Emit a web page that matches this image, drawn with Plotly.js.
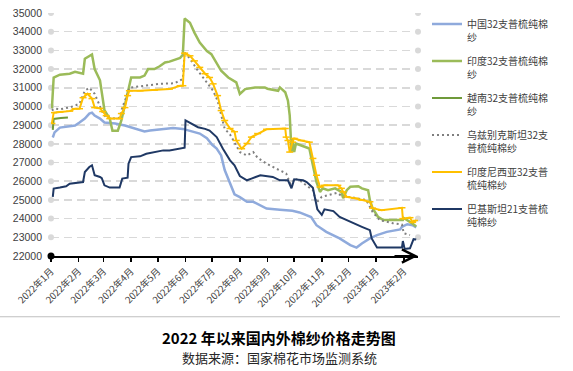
<!DOCTYPE html>
<html>
<head>
<meta charset="utf-8">
<script src="https://cdn.plot.ly/plotly-3.0.1.min.js"></script>
<style>html,body{margin:0;padding:0;background:#fff;}#chart{width:573px;height:371px;}</style>
</head>
<body>
<div id="chart"></div>
<script>
// ---- Data ----
const seriesNames = ["中国32支普梳纯棉<br>纱", "印度32支普梳纯棉<br>纱", "越南32支普梳纯棉<br>纱", "乌兹别克斯坦32支<br>普梳纯棉纱", "印度尼西亚32支普<br>梳纯棉纱", "巴基斯坦21支普梳<br>纯棉纱"];

const cnDates = ["2022-01-03","2022-01-05","2022-01-11","2022-01-22","2022-01-28","2022-02-02","2022-02-08","2022-02-13","2022-02-16","2022-02-19","2022-02-25","2022-03-02","2022-03-14","2022-03-25","2022-04-05","2022-04-16","2022-04-22","2022-05-03","2022-05-18","2022-05-29","2022-06-08","2022-06-17","2022-06-25","2022-07-01","2022-07-06","2022-07-11","2022-07-15","2022-07-21","2022-07-26","2022-08-01","2022-08-09","2022-08-16","2022-08-24","2022-08-31","2022-09-15","2022-09-29","2022-10-07","2022-10-15","2022-10-20","2022-10-26","2022-11-06","2022-11-21","2022-12-03","2022-12-10","2022-12-16","2022-12-25","2023-01-02","2023-01-13","2023-01-28","2023-01-30","2023-02-05","2023-02-11","2023-02-15"];
const cnValues = [28340,28610,28870,28930,28980,29140,29350,29620,29670,29510,29350,29140,29090,28980,28820,28660,28710,28770,28850,28800,28650,28550,28300,27950,27750,27380,26600,25900,25300,25150,24900,24900,24700,24540,24480,24420,24330,24180,24080,23650,23290,22940,22580,22450,22670,22940,23120,23290,23420,23560,23700,23650,23530];

const inDates = ["2022-01-02","2022-01-04","2022-01-11","2022-01-22","2022-01-28","2022-02-02","2022-02-06","2022-02-08","2022-02-11","2022-02-16","2022-02-19","2022-02-22","2022-02-25","2022-03-02","2022-03-08","2022-03-11","2022-03-17","2022-03-21","2022-03-26","2022-03-30","2022-04-01","2022-04-11","2022-04-16","2022-04-20","2022-04-27","2022-05-03","2022-05-09","2022-05-14","2022-05-20","2022-05-26","2022-05-29","2022-05-31","2022-06-06","2022-06-11","2022-06-17","2022-06-25","2022-06-30","2022-07-06","2022-07-11","2022-07-19","2022-07-28","2022-08-01","2022-08-07","2022-08-18","2022-08-29","2022-09-01","2022-09-13","2022-09-15","2022-09-21","2022-09-24","2022-09-26","2022-09-28","2022-09-29","2022-10-01","2022-10-03","2022-10-09","2022-10-18","2022-10-22","2022-10-26","2022-10-30","2022-11-02","2022-11-08","2022-11-16","2022-11-23","2022-11-25","2022-11-29","2022-12-03","2022-12-12","2022-12-16","2022-12-23","2022-12-25","2022-12-28","2023-01-03","2023-01-09","2023-01-31","2023-02-01","2023-02-05","2023-02-10","2023-02-15"];
const inValues = [29900,31550,31700,31750,31850,31800,31750,32550,32650,32780,32000,31700,31400,29800,29350,28700,28700,29250,30300,31000,31550,31550,31650,32000,32000,32150,32350,32400,32500,32600,32760,34700,34480,33950,33420,32970,32800,32350,31910,31550,31290,30670,30930,31020,31020,30950,30840,31020,30760,30310,29510,27560,28290,27560,28020,27910,27750,26850,25960,25430,25620,25520,25620,25430,25090,25520,25700,25730,25620,25520,24990,24560,24100,23920,23920,24030,23920,23760,23580];

const vnDates = ["2022-01-03","2022-01-04","2022-01-12","2022-01-20"];
const vnValues = [28750,29330,29380,29410];

const uzDates = ["2022-01-02","2022-01-05","2022-01-11","2022-01-22","2022-01-28","2022-02-02","2022-02-08","2022-02-13","2022-02-19","2022-02-25","2022-02-28","2022-03-04","2022-03-14","2022-03-19","2022-03-22","2022-03-28","2022-03-30","2022-04-16","2022-05-03","2022-05-20","2022-05-26","2022-05-29","2022-05-31","2022-06-06","2022-06-15","2022-06-25","2022-07-02","2022-07-07","2022-07-11","2022-07-15","2022-07-21","2022-07-26","2022-08-01","2022-08-09","2022-08-16","2022-08-21","2022-08-31","2022-09-11","2022-09-22","2022-09-28","2022-10-01","2022-10-07","2022-10-15","2022-10-22","2022-10-26","2022-11-01","2022-11-08","2022-11-18","2022-11-25","2022-12-03","2022-12-21","2022-12-28","2023-01-05","2023-01-20","2023-01-30","2023-02-01","2023-02-08"];
const uzValues = [29780,29890,29850,29950,30050,30150,30840,31000,30680,29940,29670,29410,29350,29400,29940,30680,31000,31110,31210,31240,31380,31480,32900,32550,31910,31290,30840,30310,29500,28800,28500,28100,27560,27380,27560,27250,26940,26670,26420,25700,26150,26050,25780,25520,24850,25170,25250,25380,25160,25160,24990,24360,23920,23750,23680,23220,23120];

const idDates = ["2022-01-02","2022-01-04","2022-01-11","2022-01-22","2022-01-28","2022-02-02","2022-02-06","2022-02-11","2022-02-16","2022-02-19","2022-02-25","2022-02-28","2022-03-04","2022-03-08","2022-03-19","2022-03-21","2022-03-25","2022-03-28","2022-03-30","2022-04-11","2022-04-27","2022-05-14","2022-05-26","2022-05-29","2022-05-31","2022-06-06","2022-06-11","2022-06-17","2022-06-23","2022-06-28","2022-07-02","2022-07-07","2022-07-11","2022-07-15","2022-07-21","2022-07-26","2022-07-28","2022-08-03","2022-08-09","2022-08-14","2022-08-21","2022-08-31","2022-09-21","2022-09-22","2022-09-24","2022-09-26","2022-09-29","2022-10-01","2022-10-09","2022-10-18","2022-10-22","2022-10-26","2022-10-30","2022-11-04","2022-11-19","2022-11-23","2022-11-25","2022-11-29","2022-12-08","2022-12-16","2022-12-25","2022-12-28","2023-01-07","2023-01-30","2023-01-31","2023-02-08","2023-02-11","2023-02-15"];
const idValues = [29090,29670,29700,29750,29880,29880,30470,30680,30420,29940,29900,29730,29510,29350,29350,29620,29940,30580,30840,30840,30870,30930,31110,31110,32850,32710,32440,32090,31750,31550,31210,30580,29780,29250,28820,28650,28180,27740,28020,28360,28550,28780,28820,28360,28180,27560,28090,28290,28180,28090,27220,26320,25690,25780,25780,25620,25430,25160,25090,24990,24900,24560,24450,24580,24000,24050,23800,23900];

const pkDates = ["2022-01-03","2022-01-04","2022-01-11","2022-01-18","2022-01-22","2022-01-30","2022-02-06","2022-02-08","2022-02-13","2022-02-16","2022-02-19","2022-02-25","2022-02-27","2022-03-02","2022-03-08","2022-03-19","2022-03-22","2022-03-28","2022-03-29","2022-04-01","2022-04-11","2022-04-18","2022-04-29","2022-05-07","2022-05-14","2022-05-26","2022-05-31","2022-06-01","2022-06-08","2022-06-15","2022-06-23","2022-06-28","2022-07-06","2022-07-13","2022-07-21","2022-07-26","2022-08-01","2022-08-09","2022-08-14","2022-08-24","2022-09-07","2022-09-15","2022-09-24","2022-09-28","2022-10-01","2022-10-11","2022-10-15","2022-10-22","2022-10-27","2022-11-01","2022-11-04","2022-11-14","2022-11-21","2022-11-29","2022-12-06","2022-12-16","2022-12-25","2022-12-27","2023-01-02","2023-01-30","2023-01-31","2023-02-02","2023-02-08","2023-02-12","2023-02-15"];
const pkValues = [25160,25610,25660,25730,25870,25910,25960,26490,26760,26850,26320,26230,26160,25780,25660,25660,26140,26190,26940,27290,27330,27470,27560,27650,27650,27740,27790,29250,29070,28890,28800,28710,28360,27740,27120,26850,26280,26050,26140,26320,26230,26050,26050,25620,26100,26050,25960,25650,24500,24200,24500,24400,24090,23920,23740,23560,23380,22940,22460,22460,22800,22380,22410,22900,22880];

const yTicks = [22000,23000,24000,25000,26000,27000,28000,29000,30000,31000,32000,33000,34000,35000];
const titleText = "2022 年以来国内外棉纱价格走势图";
const sourceText = "数据来源：国家棉花市场监测系统";

// ---- Layout geometry ----
const W = 573, H = 371;
const M = {l: 51, r: 155, t: 12, b: 115};
const PW = W - M.l - M.r, PH = H - M.t - M.b;
const px2x = p => (p - M.l) / PW;
const px2y = p => (H - M.b - p) / PH;

const FONT = "Liberation Sans, Noto Sans CJK SC, sans-serif";
const CJK = "Noto Sans CJK SC, Liberation Sans, sans-serif";

const traces = [
  {x: cnDates, y: cnValues, name: seriesNames[0], line: {color: "#8FAADC", width: 2.5}},
  {x: inDates, y: inValues, name: seriesNames[1], line: {color: "#9BBB59", width: 2.5}},
  {x: vnDates, y: vnValues, name: seriesNames[2], line: {color: "#6F9A3A", width: 2}},
  {x: uzDates, y: uzValues, name: seriesNames[3], line: {color: "#7F7F7F", width: 2, dash: "2px,3px"}},
  {x: idDates, y: idValues, name: seriesNames[4], mode: "lines+markers", line: {color: "#FFC000", width: 2},
   marker: {symbol: "line-ew", size: 5, line: {color: "#FFC000", width: 1.5}}},
  {x: pkDates, y: pkValues, name: seriesNames[5], line: {color: "#1F3864", width: 2}}
].map((t, i) => Object.assign({type: "scatter", mode: "lines", legendgroup: "g" + i, hoverinfo: "skip"}, t));

const shapes = [];
yTicks.forEach(v => {
  if (v > 22000) {
    [0, 1].forEach(xa => shapes.push({type: "circle", xref: "paper", yref: "y", xsizemode: "pixel", ysizemode: "pixel",
      xanchor: xa, yanchor: v, x0: -3, x1: 3, y0: -3, y1: 3, fillcolor: "#D9D9D9", line: {width: 0}, layer: "below"}));
  }
});
shapes.push({type: "circle", xref: "paper", yref: "paper", xsizemode: "pixel", ysizemode: "pixel",
  xanchor: 0, yanchor: 0, x0: -3.5, x1: 3.5, y0: -3.5, y1: 3.5, fillcolor: "#000", line: {width: 0}});
shapes.push({type: "line", xref: "paper", yref: "paper", x0: px2x(0), x1: px2x(560), y0: px2y(317), y1: px2y(317),
  line: {color: "#BFBFBF", width: 1}});

const layout = {
  width: W, height: H, margin: M, paper_bgcolor: "#fff", plot_bgcolor: "#fff",
  showlegend: true,
  font: {family: FONT, size: 10, color: "#404040"},
  xaxis: {
    type: "date", range: ["2022-01-01", "2023-02-17"], tick0: "2022-01-01", dtick: "M1",
    tickformat: "%Y年%-m月", tickangle: -45, tickfont: {family: CJK, size: 9.5, color: "#404040"},
    showgrid: false, showline: true, linecolor: "#000", linewidth: 2,
    ticks: "outside", ticklen: 4, tickwidth: 1.5, tickcolor: "#000", zeroline: false, fixedrange: true
  },
  yaxis: {
    range: [22000, 35000], tickvals: yTicks, ticktext: yTicks.map(String),
    showgrid: true, gridcolor: "#D9D9D9", gridwidth: 1.5, griddash: "8px,5px",
    showline: false, zeroline: false, ticks: "", ticklabelstandoff: 8,
    tickfont: {family: FONT, size: 10.5, color: "#404040"}, fixedrange: true
  },
  legend: {
    x: px2x(427), y: px2y(11), xanchor: "left", yanchor: "top", maxheight: 360,
    font: {family: CJK, size: 10, color: "#404040"}, valign: "top",
    traceorder: "grouped", tracegroupgap: 8, itemwidth: 30, bgcolor: "rgba(0,0,0,0)"
  },
  shapes: shapes,
  annotations: [
    {xref: "paper", yref: "paper", x: px2x(418), y: 0, ax: -25, ay: 0, text: "", showarrow: true,
     arrowhead: 5, arrowsize: 1.3, arrowwidth: 2, arrowcolor: "#000"},
    {xref: "paper", yref: "paper", x: px2x(279), y: px2y(338), text: "<b>" + titleText + "</b>", showarrow: false,
     font: {family: CJK, size: 15, color: "#000"}, xanchor: "center", yanchor: "middle"},
    {xref: "paper", yref: "paper", x: px2x(279), y: px2y(357.5), text: sourceText, showarrow: false,
     font: {family: CJK, size: 13, color: "#262626"}, xanchor: "center", yanchor: "middle"}
  ]
};

Plotly.newPlot("chart", traces, layout, {staticPlot: true, displayModeBar: false});
</script>
</body>
</html>
